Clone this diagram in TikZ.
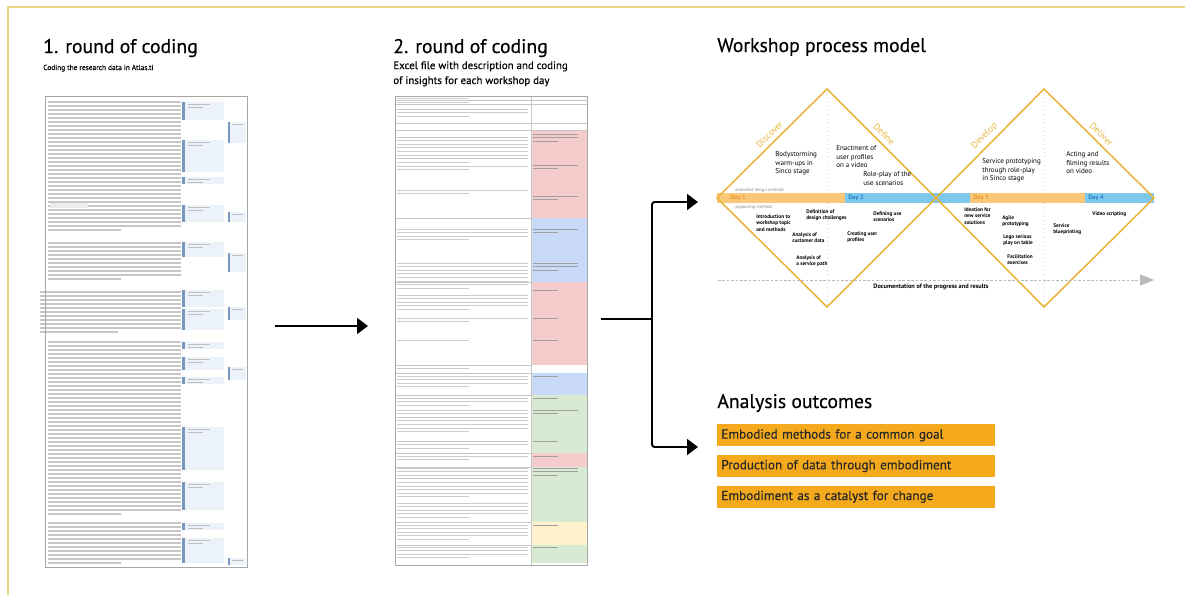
\documentclass[tikz,border=0pt]{standalone}
\usepackage{fontspec}
\setmainfont{PT Sans}
\newfontfamily\headfont{PT Sans}[FakeBold=0.35]
\usetikzlibrary{arrows.meta,positioning}

\definecolor{frameline}{RGB}{236,212,140}
\definecolor{gold}{RGB}{233,182,62}
\definecolor{bandorange}{RGB}{251,200,122}
\definecolor{bandblue}{RGB}{125,200,236}
\definecolor{dayorange}{RGB}{236,150,40}
\definecolor{dayblue}{RGB}{30,130,200}
\definecolor{outorange}{RGB}{245,170,30}
\definecolor{cellpink}{RGB}{244,204,204}
\definecolor{cellblue}{RGB}{201,218,248}
\definecolor{cellgreen}{RGB}{217,234,211}
\definecolor{cellyellow}{RGB}{255,242,204}
\definecolor{notefill}{RGB}{236,242,250}
\definecolor{notebar}{RGB}{120,150,190}

% greeked paragraph: x1, x2, top, lines, spacing
\newcommand{\txtpara}[5]{%
  \foreach \k in {1,...,#4}{%
    \draw (#1,{#3+(\k-1)*#5}) -- ({\k==#4 ? #1+0.55*(#2-#1) : #2},{#3+(\k-1)*#5});}}

\begin{document}
\begin{tikzpicture}[x=0.02cm, y=-0.02cm,
    heading/.style={font=\headfont\fontsize{11.2}{13}\selectfont, anchor=base west, inner sep=0pt},
    subhead/.style={font=\headfont\fontsize{4.2}{5.2}\selectfont, anchor=base west, inner sep=0pt},
    subhead2/.style={font=\headfont\fontsize{6.2}{8.5}\selectfont, align=left, anchor=north west, inner sep=0pt},
    docframe/.style={draw=gray!70, line width=0.6pt, inner sep=0pt, anchor=north west},
    doctext/.style={gray!45, line width=0.6pt},
    celltext/.style={gray!40, line width=0.5pt},
    cellnote/.style={gray!75, line width=0.5pt},
    grid/.style={gray!45, line width=0.4pt},
    flow/.style={line width=1.1pt, -{Triangle[length=2.2mm, width=3.2mm]}},
    dia/.style={draw=gold, line width=0.9pt, line join=miter},
    guide/.style={gray!35, dotted, line width=0.4pt},
    act/.style={font=\fontsize{4}{5}\selectfont, align=left, anchor=north west, inner sep=0pt},
    meth/.style={font=\fontsize{3}{3.7}\selectfont\bfseries, align=left, anchor=north west, inner sep=0pt},
    phase/.style={font=\fontsize{5.3}{6}\selectfont, text=gold, sloped, above, inner sep=0.6pt, yshift=2pt},
    day/.style={font=\fontsize{3.6}{4}\selectfont\bfseries, anchor=west, inner sep=0pt},
    tiny/.style={font=\fontsize{2.6}{3}\selectfont\itshape, text=gray, anchor=west, inner sep=0pt},
    outbox/.style={fill=outorange, text=black!85, font=\headfont\fontsize{7.5}{9}\selectfont, text width=5.4cm,
      align=left, minimum height=0.44cm, inner xsep=0.08cm, inner ysep=0pt, anchor=north west}
  ]
  \useasboundingbox (0,0) rectangle (1185,595);
  \draw[frameline, line width=1.1pt] (8,595) -- (8,7) -- (1185,7);

  % 1. round of coding
  \node[heading] (t1) at (43,53) {1. round of coding};
  \node[subhead] (s1) at (43,70) {Coding the research data in Atlas.ti};
  \begin{scope}[doctext]
    \txtpara{48}{181}{102}{33}{4}
    \txtpara{48}{181}{243}{10}{4}
    \txtpara{40}{181}{292}{11}{4}
    \txtpara{48}{181}{342}{44}{4}
    \txtpara{48}{181}{523}{11}{4}
  \end{scope}
  \fill[gray!15] (50,203) rectangle (88,208);
  \foreach \ya/\yb in {102/120,140/172,177/184,205/222,242/257,290/307,309/330,342/349,357/370,
      377/384,427/470,482/510,523/530,538/563}{
    \fill[notefill] (185,\ya) rectangle (224,\yb);
    \fill[notebar] (182,\ya) rectangle (184.5,\yb);
    \draw[cellnote, gray!50] (188,\ya+2.5) -- (210,\ya+2.5) (188,\ya+5.5) -- (203,\ya+5.5);
  }
  \foreach \ya/\yb in {122/143,212/222,253/272,307/320,367/380,558/565}{
    \fill[notefill] (230,\ya) rectangle (246,\yb);
    \fill[notebar] (227.5,\ya) rectangle (229.5,\yb);
    \draw[cellnote, gray!50] (232,\ya+2.5) -- (243,\ya+2.5);
  }
  \node[docframe, minimum width=4.04cm, minimum height=9.42cm] (doc1) at (45,96) {};

  % 2. round of coding
  \node[heading] (t2) at (393,53) {2. round of coding};
  \node[subhead2] (s2) at (393,61) {Excel file with description and coding\\of insights for each workshop day};
  \foreach \ya/\yb/\c in {130/218/cellpink,218/282/cellblue,282/365/cellpink,373/395/cellblue,
      395/453/cellgreen,453/467/cellpink,467/522/cellgreen,522/545/cellyellow,545/563/cellgreen}
    \fill[\c] (531,\ya) rectangle (587,\yb);
  \foreach \y in {100,104,123,130}
    \draw[grid] (395,\y) -- (587,\y);
  \foreach \y in {218,282,365,373,395,453,467,522,545}
    \draw[grid] (395,\y) -- (531,\y);
  \draw[grid] (531,96) -- (531,565);
  \begin{scope}[celltext]
    \foreach \yt/\n in {98/1,102/1,109/3,137/8,166/2,190/2,229/4,263/8,295/5,318/2,340/1,368/1,
        376/4,398/3,410/7,441/3,456/2,468/9,503/5,525/5,547/4}
      {\txtpara{397}{528}{\yt}{\n}{3.6}}
  \end{scope}
  \begin{scope}[cellnote]
    \foreach \yt/\n in {134/3,165/2,196/2,229/2,263/3,290/1,318/1,340/1,376/1,398/1,410/2,441/1,
        456/1,468/3,525/1,547/1}
      {\txtpara{533}{578}{\yt}{\n}{3.6}}
  \end{scope}
  \node[docframe, minimum width=3.84cm, minimum height=9.38cm] (doc2) at (395,96) {};

  % connectors
  \coordinate (a1) at (275,326);
  \coordinate (a1tip) at (368,326);
  \draw[flow] (a1) -- (a1tip);
  \coordinate (b0) at (601,319);
  \coordinate (split) at (652,319);
  \coordinate (modelin) at (698,202);
  \coordinate (outin) at (698,447);
  \draw[line width=1.1pt] (b0) -- (split);
  \draw[flow, rounded corners=1.5pt] (split) |- (modelin);
  \draw[flow, rounded corners=1.5pt] (split) |- (outin);

  % workshop process model
  \node[heading] (t3) at (717,52) {Workshop process model};
  \coordinate (d1w) at (717,198);
  \coordinate (d1n) at (827,89);
  \coordinate (d1e) at (936,198);
  \coordinate (d1s) at (827,307);
  \coordinate (d2n) at (1044,89);
  \coordinate (d2e) at (1154,198);
  \coordinate (d2s) at (1044,307);
  \draw[guide] (d1n) -- (d1s);
  \draw[guide] (d2n) -- (d2s);
  \fill[bandorange] (717,193) rectangle (845,203);
  \fill[bandblue] (845,193) rectangle (970,203);
  \fill[bandorange] (970,193) rectangle (1085,203);
  \fill[bandblue] (1085,193) rectangle (1154,203);
  \draw[dia] (d1w) -- (d1n) -- (d1e) -- (d1s) -- cycle;
  \draw[dia] (d1e) -- (d2n) -- (d2e) -- (d2s) -- cycle;
  \path (d1w) -- (d1n) node[phase, pos=0.53] (discover) {Discover};
  \path (d1n) -- (d1e) node[phase, pos=0.47] (define) {Define};
  \path (d1e) -- (d2n) node[phase, pos=0.51] (develop) {Develop};
  \path (d2n) -- (d2e) node[phase, pos=0.47] (deliver) {Deliver};

  \node[day, text=dayorange] (day1) at (730,198) {Day 1};
  \node[day, text=dayblue] (day2) at (848,198) {Day 2};
  \node[day, text=dayorange] (day3) at (973,198) {Day 3};
  \node[day, text=dayblue] (day4) at (1088,198) {Day 4};
  \node[tiny] (embod) at (735,190) {embodied design methods};
  \node[tiny] (supp) at (735,207) {supporting methods};

  \node[act] (bodyst) at (775,151) {Bodystorming\\warm-ups in\\Sinco stage};
  \node[act] (enact) at (836,145) {Enactment of\\user profiles\\on a video};
  \node[act] (roleplay) at (863,171) {Role-play of the\\use scenarios};
  \node[act] (servproto) at (982,158) {Service prototyping\\through role-play\\in Sinco stage};
  \node[act] (acting) at (1066,151) {Acting and\\filming results\\on video};

  \node[meth] (intro) at (756,214) {Introduction to\\workshop topic\\and methods};
  \node[meth] (definit) at (806,209) {Definition of\\design challenges};
  \node[meth] (custdata) at (792,232) {Analysis of\\customer data};
  \node[meth] (servpath) at (796,255) {Analysis of\\a service path};
  \node[meth] (defuse) at (873,211) {Defining use\\scenarios};
  \node[meth] (userprof) at (847,231) {Creating user\\profiles};
  \node[meth] (ideation) at (964,207) {Ideation for\\new service\\solutions};
  \node[meth] (agile) at (1002,215) {Agile\\prototyping};
  \node[meth] (lego) at (1003,234) {Lego serious\\play on table};
  \node[meth] (facil) at (1007,254) {Facilitation\\exercises};
  \node[meth] (blueprint) at (1053,223) {Service\\blueprinting};
  \node[meth] (video) at (1092,211) {Video scripting};

  \coordinate (docstart) at (718,280);
  \coordinate (docend) at (1154,280);
  \draw[gray!55, dash pattern=on 1.5pt off 1pt, line width=0.5pt,
    -{Triangle[length=2.8mm, width=2.2mm]}] (docstart) -- (docend);
  \node[meth, anchor=base] (docu) at (931,288) {\fontsize{3.6}{4}\selectfont Documentation of the progress and results};

  % analysis outcomes
  \node[heading] (t4) at (717,408) {Analysis outcomes};
  \node[outbox] (o1) at (717,424) {Embodied methods for a common goal};
  \node[outbox, below=0.16cm of o1.south west, anchor=north west] (o2) {Production of data through embodiment};
  \node[outbox, below=0.16cm of o2.south west, anchor=north west] (o3) {Embodiment as a catalyst for change};
\end{tikzpicture}
\end{document}
